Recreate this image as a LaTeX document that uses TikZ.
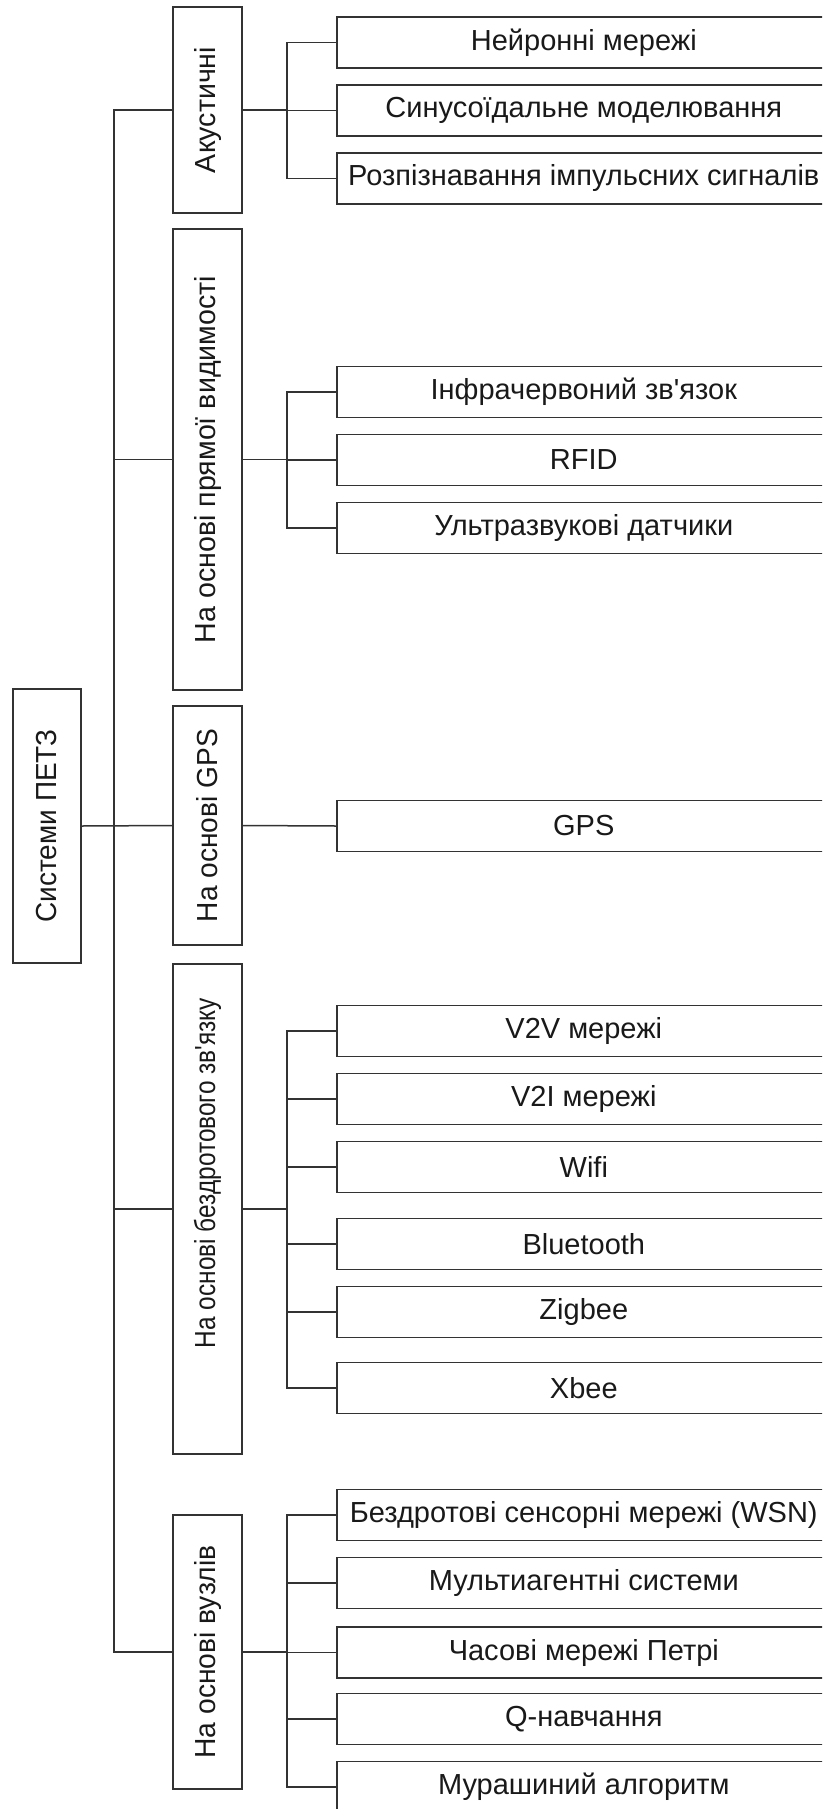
\documentclass[tikz,border=0pt]{standalone}
\usepackage{fontspec}
\setmainfont{Liberation Sans}
\usepackage{graphicx}
% vertical label set to a given length along the box
\newcommand{\vlabel}[2]{\rotatebox{90}{\resizebox{#1}{\height}{#2}}}
\begin{document}
\begin{tikzpicture}[x=1pt,y=-1pt,
  box/.style={draw=black!80, line width=1.6pt, inner sep=0pt,
    font=\fontsize{29}{31}\selectfont, text=black!90},
  cat/.style={box, minimum width=69pt},
  leaf/.style={box, anchor=west, minimum width=494pt, minimum height=51pt},
  link/.style={draw=black!80, line width=1.5pt}]
\clip (0,0) rectangle (822,1809);
\fill[white] (0,0) rectangle (822,1809);

% root and the five groups
\node[box, minimum width=68pt, minimum height=274pt] (root) at (47,826)
  {\vlabel{193pt}{Системи ПЕТЗ}};
\node[cat, minimum height=206pt] (akus)  at (207.5,110)   {\vlabel{126pt}{Акустичні}};
\node[cat, minimum height=461pt] (pryam) at (207.5,459.5) {\vlabel{367pt}{На основі прямої видимості}};
\node[cat, minimum height=239pt] (gps)   at (207.5,825.5) {\vlabel{193pt}{На основі GPS}};
\node[cat, minimum height=490pt] (bezdr) at (207.5,1209)
  {\rotatebox{90}{\hspace{72pt}\resizebox{350pt}{\height}{На основі бездротового зв\textquotesingle язку}}};
\node[cat, minimum height=274pt] (vuz)   at (207.5,1652)  {\vlabel{213pt}{На основі вузлів}};

% leaves
\node[leaf] (a1) at (336,42.5)  {Нейронні мережі};
\node[leaf] (a2) at (336,110.5) {Синусоїдальне моделювання};
\node[leaf] (a3) at (336,178.5) {Розпізнавання імпульсних сигналів};

\node[leaf] (p1) at (336,392) {Інфрачервоний зв\textquotesingle язок};
\node[leaf] (p2) at (336,460) {RFID};
\node[leaf] (p3) at (336,528) {Ультразвукові датчики};

\node[leaf] (g1) at (336,826) {GPS};

\node[leaf] (b1) at (336,1031) {V2V мережі};
\node[leaf] (b2) at (336,1099) {V2I мережі};
\node[leaf] (b3) at (336,1167) {Wifi};
\node[leaf] (b4) at (336,1244) {Bluetooth};
\node[leaf] (b5) at (336,1312) {Zigbee};
\node[leaf] (b6) at (336,1388) {Xbee};

\node[leaf] (v1) at (336,1515) {Бездротові сенсорні мережі (WSN)};
\node[leaf] (v2) at (336,1583) {Мультиагентні системи};
\node[leaf] (v3) at (336,1652.5) {Часові мережі Петрі};
\node[leaf] (v4) at (336,1719) {Q-навчання};
\node[leaf] (v5) at (336,1787) {Мурашиний алгоритм};

% trunk from the root to the groups
\draw[link] (root.east) -- (gps.west);
\draw[link] (akus.west) -- ++(-58,0) |- (vuz.west);
\foreach \g in {pryam,bezdr} \draw[link] (\g.west) -- ++(-58,0);

% group buses
\foreach \c in {a1,a2,a3} \draw[link] (akus.east) -- ++(44,0) |- (\c.west);
\foreach \c in {p1,p2,p3} \draw[link] (pryam.east) -- ++(44,0) |- (\c.west);
\draw[link] (gps.east) -- (g1.west);
\foreach \c in {b1,b2,b3,b4,b5,b6} \draw[link] (bezdr.east) -- ++(44,0) |- (\c.west);
\foreach \c in {v1,v2,v3,v4,v5} \draw[link] (vuz.east) -- ++(44,0) |- (\c.west);
\end{tikzpicture}
\end{document}
